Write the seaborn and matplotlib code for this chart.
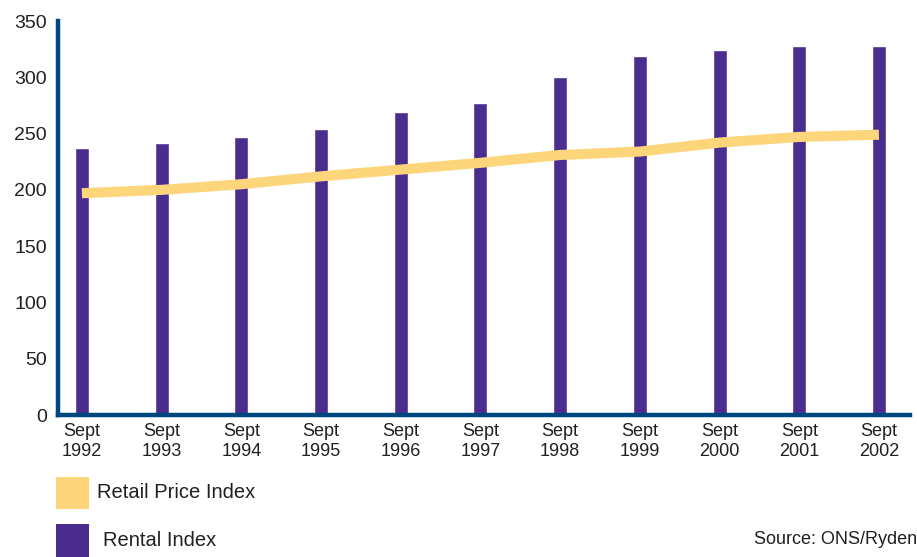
import numpy as np
import pandas as pd
import matplotlib
matplotlib.use("Agg")
import matplotlib.pyplot as plt
from matplotlib.patches import Rectangle
import seaborn as sns

# Index values, September of each year
years = ["1992", "1993", "1994", "1995", "1996", "1997",
         "1998", "1999", "2000", "2001", "2002"]
tick_labels = [f"Sept\n{y}" for y in years]
rental_index = [237, 242, 247, 254, 269, 277, 300, 319, 324, 328, 328]
retail_price_index = [197, 200, 205, 212, 218, 224, 231, 234, 242, 247, 249]
y_ticks = [0, 50, 100, 150, 200, 250, 300, 350]

PURPLE = "#4B2D8F"
YELLOW = "#FDD67C"
NAVY = "#00467F"
TEXT = "#231F20"

sns.set_style("white")
plt.rcParams["font.family"] = ["Liberation Sans", "DejaVu Sans"]

df = pd.DataFrame({
    "year": years,
    "pos": np.arange(len(years)),
    "rental": rental_index,
    "rpi": retail_price_index,
})

fig = plt.figure(figsize=(9.17, 5.57), dpi=100)
ax = fig.add_axes([58 / 917, (557 - 415) / 557, (910 - 58) / 917, (415 - 21) / 557])

sns.barplot(data=df, x="year", y="rental", color=PURPLE, width=0.176,
            saturation=1, ax=ax, zorder=2)
sns.lineplot(data=df, x="pos", y="rpi", color=YELLOW, linewidth=7.3,
             ax=ax, zorder=3, solid_capstyle="butt", solid_joinstyle="round")

ax.set_xlim(-0.30, 10.39)
ax.set_ylim(0, 350)
ax.set_yticks(y_ticks)
ax.set_yticklabels([str(v) for v in y_ticks], fontsize=14, color=TEXT)
ax.set_xticks(df["pos"])
ax.set_xticklabels(tick_labels, fontsize=13, color=TEXT, linespacing=1.2)
ax.tick_params(axis="y", length=0, pad=8)
ax.tick_params(axis="x", length=0, pad=6)
ax.set_xlabel("")
ax.set_ylabel("")

for side in ("top", "right"):
    ax.spines[side].set_visible(False)
for side in ("left", "bottom"):
    ax.spines[side].set_color(NAVY)
    ax.spines[side].set_linewidth(3.2)
    ax.spines[side].set_zorder(4)

# Legend swatches and labels below the chart
W, H = 917, 557
fig.add_artist(Rectangle((56 / W, (H - 509) / H), 33 / W, 32 / H,
                         transform=fig.transFigure, color=YELLOW, lw=0))
fig.add_artist(Rectangle((56 / W, (H - 557) / H), 33 / W, 33 / H,
                         transform=fig.transFigure, color=PURPLE, lw=0))
fig.text(97 / W, (H - 493) / H, "Retail Price Index", fontsize=14.5,
         color=TEXT, va="center", ha="left")
fig.text(103 / W, (H - 540) / H, "Rental Index", fontsize=14.5,
         color=TEXT, va="center", ha="left")
fig.text(754 / W, (H - 540) / H, "Source: ONS/Ryden", fontsize=13,
         color=TEXT, va="center", ha="left")

fig.savefig("out.png", dpi=100)
